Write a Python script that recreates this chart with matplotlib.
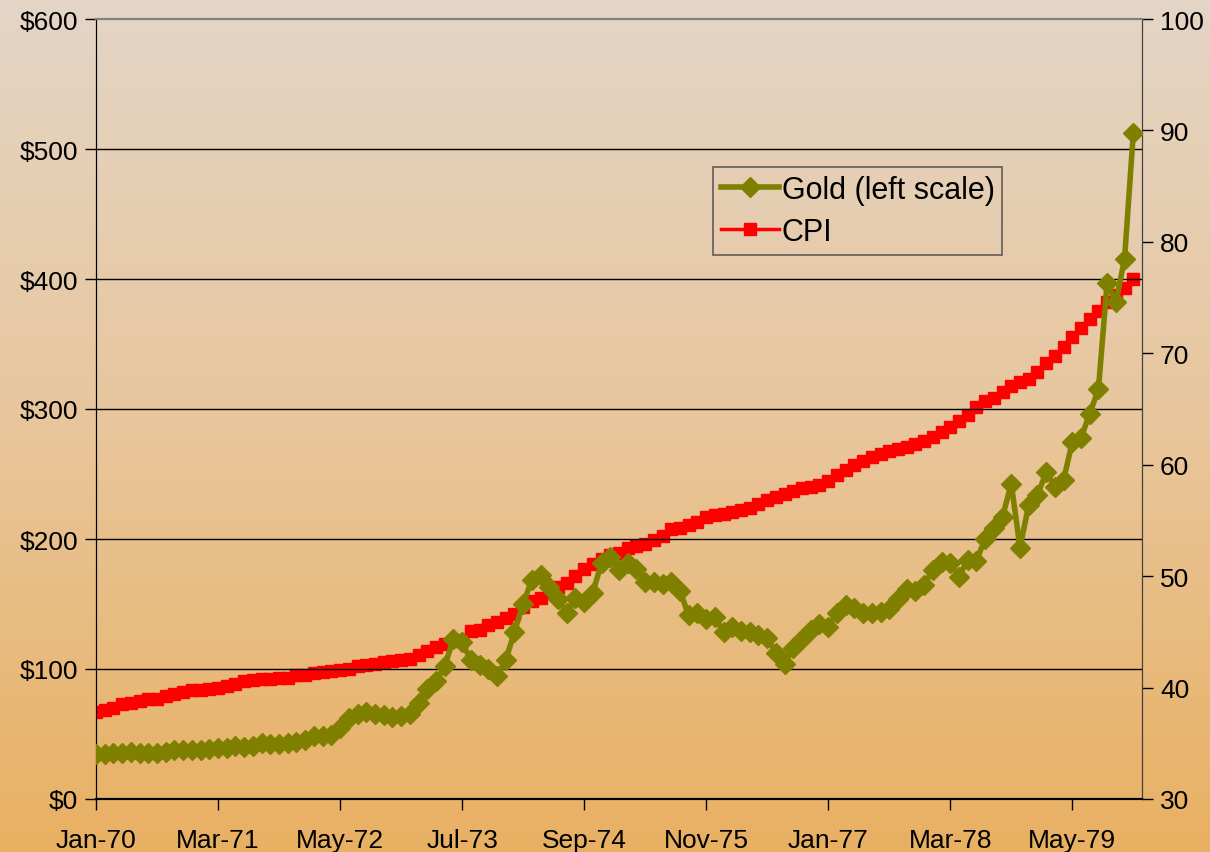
import matplotlib
matplotlib.use("Agg")
import matplotlib.pyplot as plt
import numpy as np
from matplotlib.colors import LinearSegmentedColormap

plt.rcParams['font.family'] = ['Liberation Sans', 'DejaVu Sans']

# monthly, Jan-70 .. Dec-79
gold = [
    34.9, 35.0, 35.1, 35.7, 35.9, 35.4, 35.3, 35.4, 36.2, 37.5, 37.4, 37.4,
    37.9, 38.7, 38.9, 39.0, 40.5, 40.1, 41.0, 42.7, 42.0, 42.5, 42.9, 43.6,
    45.7, 48.3, 48.3, 49.0, 54.6, 62.1, 65.7, 67.0, 65.5, 64.9, 62.9, 63.9,
    65.1, 74.2, 84.4, 90.5, 102.0, 123.3, 120.5, 106.8, 103.0, 100.1, 94.8, 106.7,
    128.5, 150.2, 168.4, 172.2, 163.3, 154.1, 143.0, 154.6, 151.8, 158.8, 181.7, 186.5,
    175.8, 181.8, 177.3, 167.0, 167.0, 165.2, 166.7, 159.8, 141.3, 142.9, 138.2, 140.3,
    128.2, 132.3, 129.6, 128.4, 125.8, 123.8, 112.5, 104.0, 116.0, 123.2, 130.3, 134.5,
    132.3, 142.8, 148.9, 147.3, 143.0, 143.0, 144.1, 146.0, 154.1, 161.5, 160.0, 165.0,
    175.8, 182.3, 181.6, 170.9, 184.1, 183.1, 200.3, 208.7, 217.1, 242.6, 193.4, 226.0,
    233.7, 251.3, 240.1, 245.3, 274.6, 277.5, 296.5, 315.1, 397.3, 382.0, 415.7, 512.0,
]
cpi = [
    37.8, 38.0, 38.2, 38.5, 38.6, 38.8, 39.0, 39.0, 39.2, 39.4, 39.6, 39.8,
    39.8, 39.9, 40.0, 40.1, 40.3, 40.6, 40.7, 40.8, 40.8, 40.9, 40.9, 41.1,
    41.1, 41.3, 41.4, 41.5, 41.6, 41.7, 41.9, 42.0, 42.1, 42.3, 42.4, 42.5,
    42.6, 42.9, 43.3, 43.6, 43.9, 44.2, 44.3, 45.1, 45.2, 45.6, 45.9, 46.2,
    46.6, 47.2, 47.8, 48.0, 48.6, 49.0, 49.4, 50.0, 50.6, 51.1, 51.5, 51.9,
    52.1, 52.5, 52.7, 52.9, 53.2, 53.6, 54.2, 54.3, 54.6, 54.9, 55.3, 55.5,
    55.6, 55.8, 55.9, 56.1, 56.5, 56.8, 57.1, 57.4, 57.6, 57.9, 58.0, 58.2,
    58.5, 59.1, 59.5, 60.0, 60.3, 60.7, 61.0, 61.2, 61.4, 61.6, 61.9, 62.1,
    62.5, 62.9, 63.4, 63.9, 64.5, 65.2, 65.7, 66.0, 66.5, 67.1, 67.4, 67.7,
    68.3, 69.1, 69.8, 70.6, 71.5, 72.3, 73.1, 73.8, 74.6, 75.2, 75.9, 76.7,
]
xlabels = ['Jan-70', 'Mar-71', 'May-72', 'Jul-73', 'Sep-74', 'Nov-75', 'Jan-77', 'Mar-78', 'May-79']
gold_ticks = [0, 100, 200, 300, 400, 500, 600]
cpi_ticks = [30, 40, 50, 60, 70, 80, 90, 100]

months = np.arange(len(gold))

fig = plt.figure(figsize=(12.1, 8.53), dpi=100)

# background gradient over the whole figure
bg = fig.add_axes([0, 0, 1, 1], zorder=-10)
cmap = LinearSegmentedColormap.from_list('bg', ['#e4d5c6', '#e8c69c', '#e9b062'])
bg.imshow(np.linspace(0, 1, 256).reshape(-1, 1), aspect='auto', cmap=cmap, extent=[0, 1, 0, 1])
bg.axis('off')

ax = fig.add_axes([96/1210, 1 - 800/853, (1142-96)/1210, (800-20)/853])
ax.set_facecolor('none')
ax2 = ax.twinx()

lg, = ax.plot(months, gold, color='#808000', lw=4, marker='D', ms=10.5,
              label='Gold (left scale)', zorder=3)
lc, = ax2.plot(months, cpi, color='#ff0000', lw=2.5, marker='s', ms=8,
               label='CPI', zorder=2)

ax.set_xlim(0, 120)
ax.set_ylim(0, 600)
ax2.set_ylim(30, 100)
ax.set_yticks(gold_ticks)
ax.set_yticklabels(['$%d' % v for v in gold_ticks])
ax2.set_yticks(cpi_ticks)
ax.set_xticks(np.arange(len(xlabels)) * 14)
ax.set_xticklabels(xlabels)

for y in gold_ticks[1:-1]:
    ax.axhline(y, color='black', lw=1, zorder=1)

ax.tick_params(axis='both', labelsize=19, direction='out', length=8, width=1, colors='black')
ax.tick_params(axis='x', pad=13)
ax.tick_params(axis='y', pad=5)
ax2.tick_params(axis='y', labelsize=19, direction='out', length=8, width=1, pad=5)

for a in (ax, ax2):
    a.spines['top'].set_color('#808080')
    a.spines['top'].set_linewidth(1.5)
    a.spines['left'].set_color('black')
    a.spines['bottom'].set_color('black')
    a.spines['right'].set_color('#404040')
    a.spines['bottom'].set_linewidth(1.5)

ax.set_zorder(ax2.get_zorder() + 1)
ax.patch.set_visible(False)

leg = ax.legend(handles=[lg, lc], loc='upper left', bbox_to_anchor=(713/1210, 1 - 168/853),
                bbox_transform=fig.transFigure, fontsize=22, frameon=True, fancybox=False,
                handlelength=1.9, handletextpad=0.1, borderpad=0.25, labelspacing=0.4,
                borderaxespad=0)
leg.get_frame().set_facecolor('none')
leg.get_frame().set_edgecolor('#404040')
leg.get_frame().set_linewidth(1.2)

fig.savefig('out.png', dpi=100)
